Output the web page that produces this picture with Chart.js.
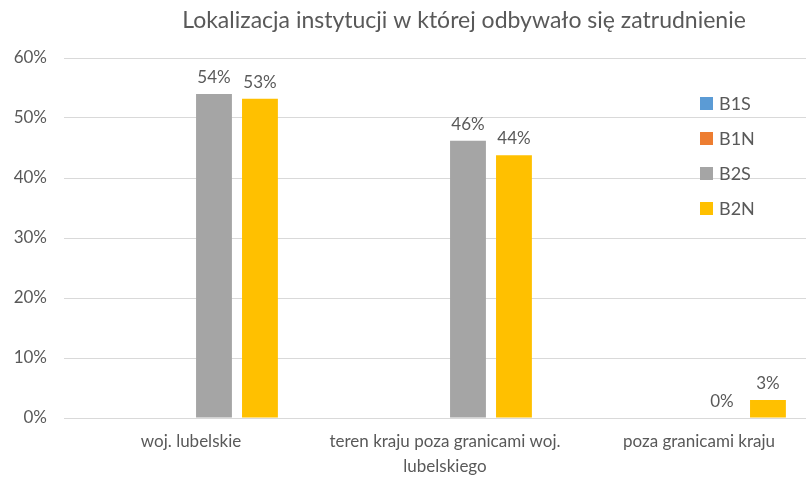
<!DOCTYPE html>
<html>
<head>
<meta charset="utf-8">
<script src="https://cdn.jsdelivr.net/npm/chart.js@4.4.0/dist/chart.umd.min.js"></script>
<style>
  html, body { margin: 0; padding: 0; background: #fff; overflow: hidden; }
  #wrap { width: 806px; height: 479px; overflow: hidden; }
</style>
</head>
<body>
<div id="wrap"><canvas id="chart" width="830" height="479"></canvas></div>
<script>
const chartTitle = "Lokalizacja instytucji w której odbywało się zatrudnienie";
const categories = [
  "woj. lubelskie",
  ["teren kraju poza granicami woj.", "lubelskiego"],
  "poza granicami kraju"
];
const seriesNames = ["B1S", "B1N", "B2S", "B2N"];
const seriesColors = ["#5b9bd5", "#ed7d31", "#a5a5a5", "#ffc000"];
const b1s = [null, null, null];
const b1n = [null, null, null];
const b2s = [54, 46.2, 0];
const b2n = [53.2, 43.8, 3];
const yTicks = [0, 10, 20, 30, 40, 50, 60];

const textColor = "#595959";
const fontFamily = "Lato, 'Liberation Sans', Arial, sans-serif";

// labels over the bars, only where there is a value
const valueLabels = {
  id: "valueLabels",
  afterDatasetsDraw(chart) {
    const ctx = chart.ctx;
    ctx.save();
    ctx.fillStyle = textColor;
    ctx.font = "17px " + fontFamily;
    ctx.textAlign = "center";
    ctx.textBaseline = "bottom";
    chart.data.datasets.forEach((ds, i) => {
      const meta = chart.getDatasetMeta(i);
      meta.data.forEach((bar, j) => {
        const v = ds.data[j];
        if (v === null || v === undefined) return;
        ctx.fillText(Math.round(v) + "%", bar.x, bar.y - 8);
      });
    });
    ctx.restore();
  }
};

const titleAndLegend = {
  id: "titleAndLegend",
  afterDraw(chart) {
    const ctx = chart.ctx;
    ctx.save();
    ctx.fillStyle = textColor;
    ctx.font = "23px " + fontFamily;
    ctx.textAlign = "center";
    ctx.textBaseline = "middle";
    ctx.fillText(chartTitle, 464, 21);

    ctx.font = "18px " + fontFamily;
    ctx.textAlign = "left";
    chart.data.datasets.forEach((ds, i) => {
      const y = 103 + i * 35;
      ctx.fillStyle = ds.backgroundColor;
      ctx.fillRect(700, y - 6, 13, 13);
      ctx.fillStyle = textColor;
      ctx.fillText(ds.label, 719, y + 1);
    });
    ctx.restore();
  }
};

new Chart(document.getElementById("chart"), {
  type: "bar",
  data: {
    labels: categories,
    datasets: [
      { label: seriesNames[0], data: b1s, backgroundColor: seriesColors[0] },
      { label: seriesNames[1], data: b1n, backgroundColor: seriesColors[1] },
      { label: seriesNames[2], data: b2s, backgroundColor: seriesColors[2] },
      { label: seriesNames[3], data: b2n, backgroundColor: seriesColors[3] }
    ]
  },
  options: {
    responsive: false,
    animation: false,
    layout: { padding: { top: 58, right: 4, bottom: 0, left: 0 } },
    datasets: { bar: { categoryPercentage: 0.724, barPercentage: 0.78 } },
    plugins: {
      legend: { display: false },
      title: { display: false },
      tooltip: { enabled: false }
    },
    scales: {
      x: {
        grid: { display: false },
        border: { display: false },
        ticks: {
          color: textColor,
          font: { size: 17, family: fontFamily, lineHeight: 1.47 },
          padding: 3,
          maxRotation: 0,
          autoSkip: false
        },
        afterFit(scale) { scale.height = 61; }
      },
      y: {
        min: yTicks[0],
        max: yTicks[yTicks.length - 1],
        afterBuildTicks(scale) { scale.ticks = yTicks.map(v => ({ value: v })); },
        grid: { color: "#d9d9d9", lineWidth: 1, drawTicks: false },
        border: { display: false },
        ticks: {
          color: textColor,
          font: { size: 17, family: fontFamily },
          padding: 17,
          callback: v => v + "%"
        },
        afterFit(scale) { scale.width = 64; }
      }
    }
  },
  plugins: [valueLabels, titleAndLegend]
});
</script>
</body>
</html>
